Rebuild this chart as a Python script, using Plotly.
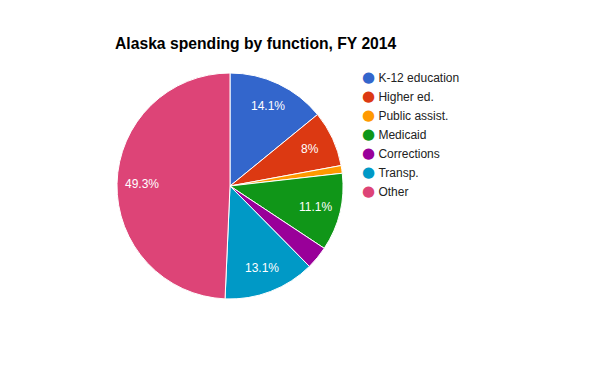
import math
import plotly.graph_objects as go

categories = ["K-12 education", "Higher ed.", "Public assist.", "Medicaid", "Corrections", "Transp.", "Other"]
values = [14.1, 8.0, 1.1, 11.1, 3.3, 13.1, 49.3]
colors = ["#3366cc", "#dc3912", "#ff9900", "#109618", "#990099", "#0099c6", "#dd4477"]

W, H = 600, 371
cx, cy, r = 230, 186, 113
FONT = "Arial, Liberation Sans"

fig = go.Figure()
fig.add_trace(go.Pie(
    labels=categories, values=values, sort=False, direction="clockwise", rotation=0,
    marker=dict(colors=colors, line=dict(color="white", width=1)),
    textinfo="none", hoverinfo="label+percent", showlegend=False,
    domain=dict(x=[(cx - r) / W, (cx + r) / W], y=[(H - cy - r) / H, (H - cy + r) / H]),
))

# slice labels (Google-style placement, derived from the data)
total = sum(values)
cum = 0.0
for v in values:
    frac = v / total
    mid = (cum + frac / 2) * 2 * math.pi
    cum += frac
    if frac < 0.05:
        continue
    px = cx + 0.78 * r * math.sin(mid)
    py = cy - 0.78 * r * math.cos(mid)
    fig.add_annotation(x=px / W, y=1 - py / H, xref="paper", yref="paper",
                       xanchor="center", yanchor="middle",
                       text=f"{frac * 100:.3g}%", showarrow=False,
                       font=dict(family=FONT, size=12, color="white"))

for name, c in zip(categories, colors):
    fig.add_trace(go.Scatter(
        x=[None], y=[None], mode="markers",
        name=f'<span style="color:{c};font-family:DejaVu Sans;font-size:15px">●</span>&nbsp;{name}',
        marker=dict(color="rgba(0,0,0,0)", size=1), showlegend=True))

fig.update_layout(
    width=W, height=H, margin=dict(l=0, r=0, t=0, b=0),
    paper_bgcolor="white", plot_bgcolor="white",
    xaxis=dict(visible=False), yaxis=dict(visible=False),
    title=dict(text="<b>Alaska spending by function, FY 2014</b>", x=115 / W, xanchor="left",
               y=1 - 44 / H, yanchor="middle",
               font=dict(family=FONT, size=15.7, color="#000")),
    legend=dict(x=322 / W, y=1 - 63 / H, xanchor="left", yanchor="top",
                font=dict(family=FONT, size=12, color="#222"),
                tracegroupgap=0, itemwidth=30, bgcolor="rgba(0,0,0,0)"),
)
fig.write_html("out.html")
